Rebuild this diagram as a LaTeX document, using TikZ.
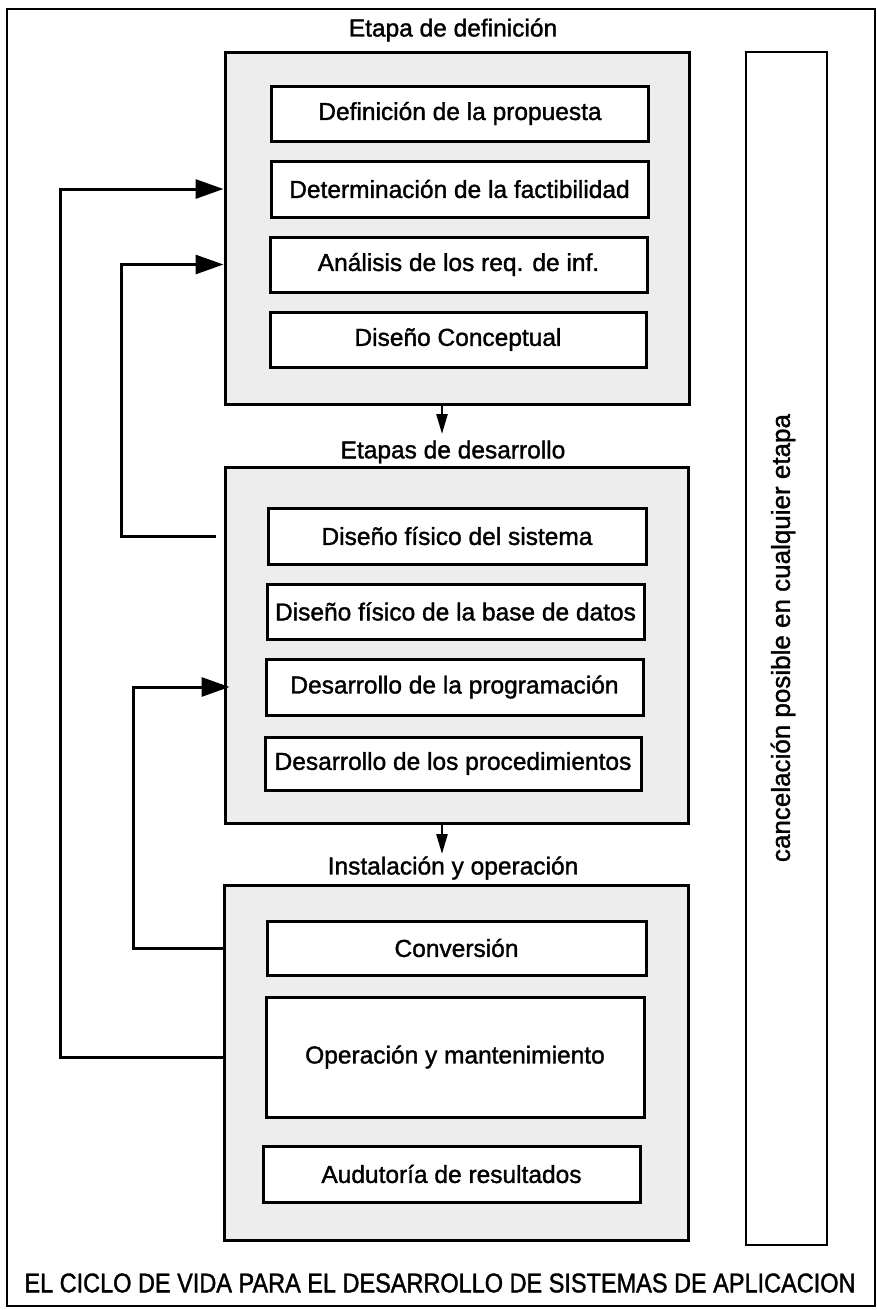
\documentclass[tikz,border=0pt]{standalone}
\usepackage{fontspec}
\setmainfont{Liberation Sans}[FakeBold=1.4]
\newfontfamily\capfont{Liberation Sans}[FakeStretch=0.87,FakeBold=1.4]
\usetikzlibrary{arrows.meta}
\begin{document}
\begin{tikzpicture}[x=1pt,y=-1pt,
  frame/.style={draw,line width=2.2pt},
  stagebox/.style={draw,line width=3pt,fill=black!7,inner sep=0pt},
  itembox/.style={draw,line width=3pt,fill=white,inner sep=0pt,align=center,
    font=\fontsize{24.5}{29}\selectfont},
  stagetitle/.style={inner sep=0pt,font=\fontsize{24.5}{29}\selectfont},
  fb/.style={line width=3pt,-{Triangle[length=28pt,width=19pt]}},
  darrow/.style={line width=2.5pt,-{Triangle[length=20pt,width=11pt]}}
]
\useasboundingbox (0,0) rectangle (877,1310);
\fill[white] (0,0) rectangle (877,1310);
% outer frame
\draw[frame] (7,9) rectangle (875,1306);

% stage boxes
\node[stagebox,minimum width=464pt,minimum height=352pt] (s1) at (457,228) {};
\node[stagebox,minimum width=463pt,minimum height=356pt] (s2) at (456.5,645) {};
\node[stagebox,minimum width=464pt,minimum height=355pt] (s3) at (456,1062.5) {};

% titles
\node[stagetitle] (t1) at (453,30) {Etapa de definición};
\node[stagetitle] (t2) at (453,452) {Etapas de desarrollo};
\node[stagetitle] (t3) at (453,868) {Instalación y operación};

% items stage 1
\node[itembox,minimum width=377pt,minimum height=55pt] (d1) at (460,113.5) {Definición de la propuesta};
\node[itembox,minimum width=377pt,minimum height=56pt] (d2) at (459.5,189) {Determinación de la factibilidad};
\node[itembox,minimum width=377pt,minimum height=55pt] (d3) at (458.5,264.5) {Análisis de los req. de inf.};
\node[itembox,minimum width=376pt,minimum height=55pt] (d4) at (458,339.5) {Diseño Conceptual};
% items stage 2
\node[itembox,minimum width=378pt,minimum height=56pt] (e1) at (457,536) {Diseño físico del sistema};
\node[itembox,minimum width=377pt,minimum height=55pt] (e2) at (455.5,611.5) {Diseño físico de la base de datos};
\node[itembox,minimum width=377pt,minimum height=56pt] (e3) at (454.5,687) {Desarrollo de la programación};
\node[itembox,minimum width=376pt,minimum height=53pt] (e4) at (453,763.5) {Desarrollo de los procedimientos};
% items stage 3
\node[itembox,minimum width=379pt,minimum height=54pt] (f1) at (456.5,948) {Conversión};
\node[itembox,minimum width=378pt,minimum height=120pt] (f2) at (455,1057) {Operación y mantenimiento};
\node[itembox,minimum width=377pt,minimum height=56pt] (f3) at (451.5,1174) {Audutoría de resultados};

% right box
\node[draw,line width=2.2pt,minimum width=81pt,minimum height=1193pt,inner sep=0pt] (cb) at (786.5,648.5) {};
\node[rotate=90,inner sep=0pt,font=\fontsize{26}{31}\selectfont] (ct) at (783,638) {cancelación posible en cualquier etapa};

% caption
\node[inner sep=0pt,font=\capfont\fontsize{27}{32}\selectfont] (cap) at (440,1283) {EL CICLO DE VIDA PARA EL DESARROLLO DE SISTEMAS DE APLICACION};

% feedback connectors
\coordinate (xa) at (60,600);
\coordinate (xb) at (121,400);
\coordinate (xc) at (133,800);
\draw[fb] (s3.west |- f2) -| (xa) |- (s1.west |- d2);
\draw[fb] ([xshift=-8pt]s2.west |- e1) -| (xb) |- (s1.west |- d3);
\draw[fb] (s3.west |- f1) -| (xc) |- ([xshift=6pt]s2.west |- e3);

% down arrows
\coordinate (dx) at (442,0);
\draw[darrow] (s1.south -| dx) -- (dx |- 0,434);
\draw[darrow] (s2.south -| dx) -- (dx |- 0,854);
\end{tikzpicture}
\end{document}
